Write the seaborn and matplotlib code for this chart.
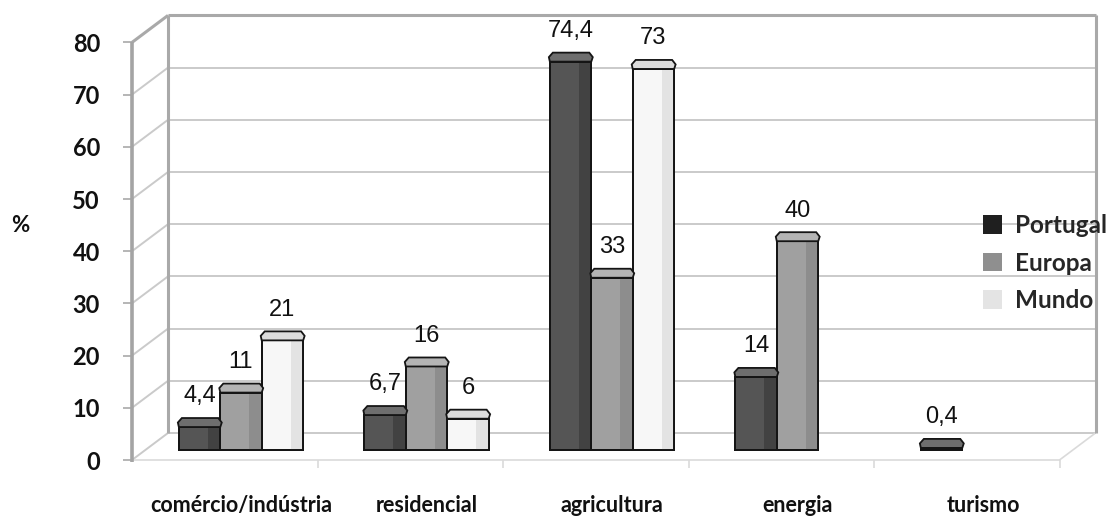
import matplotlib
matplotlib.use("Agg")
import matplotlib.pyplot as plt
from matplotlib.colors import to_hex
from matplotlib.patches import Polygon, Rectangle, Patch
import pandas as pd
import seaborn as sns

# ---- data -------------------------------------------------------------
categorias = ["comércio/indústria", "residencial", "agricultura", "energia", "turismo"]
regioes = ["Portugal", "Europa", "Mundo"]
portugal = [4.4, 6.7, 74.4, 14, 0.4]
europa = [11, 16, 33, 40, None]
mundo = [21, 6, 73, None, None]
y_ticks = [0, 10, 20, 30, 40, 50, 60, 70, 80]

df = pd.DataFrame({"categoria": categorias, "Portugal": portugal,
                   "Europa": europa, "Mundo": mundo})
long = (df.melt(id_vars="categoria", var_name="regiao", value_name="valor")
          .dropna())

# ---- styling ----------------------------------------------------------
sns.set_style("white")
plt.rcParams["font.family"] = ["Lato", "DejaVu Sans"]

front_col = {"Portugal": "#555555", "Europa": "#a0a0a0", "Mundo": "#f7f7f7"}
strip_col = {"Portugal": "#424242", "Europa": "#8d8d8d", "Mundo": "#e3e3e3"}
cap_col = {"Portugal": "#6e6e6e", "Europa": "#b4b4b4", "Mundo": "#dcdcdc"}
legend_col = {"Portugal": "#1f1f1f", "Europa": "#8f8f8f", "Mundo": "#e4e4e4"}
EDGE = "#151515"

W, H, DPI = 1111, 519, 100
fig = plt.figure(figsize=(W / DPI, H / DPI), dpi=DPI)
fig.patch.set_facecolor("white")

# axes box in pixels and pixel scale of the data
AX_L, AX_R, AX_T, AX_B = 132, 1100, 0, 470
X0_PX, Y0_PX = 241, 450          # pixel of category 0 / value 0
PXU, PXV = 185.5, 5.22           # pixels per category / per percent
ax = fig.add_axes([AX_L / W, 1 - AX_B / H, (AX_R - AX_L) / W, (AX_B - AX_T) / H])

sns.barplot(data=long, x="categoria", y="valor", hue="regiao",
            order=categorias, hue_order=regioes, palette=front_col,
            width=0.67, saturation=1, edgecolor=EDGE, linewidth=1.4,
            errorbar=None, legend=False, ax=ax, zorder=3)

ax.set_xlim((AX_L - X0_PX) / PXU, (AX_R - X0_PX) / PXU)
ax.set_ylim((Y0_PX - AX_B) / PXV, (Y0_PX - AX_T) / PXV)
for s in ax.spines.values():
    s.set_visible(False)
ax.set_xlabel("")
ax.set_ylabel("")


def du(px):
    return px / PXU


def dv(px):
    return px / PXV


# planes of the pseudo-3D box: (x shift, y shift) in pixels from the bar plane
FRONT = (-16.25, -10.0)
BACK = (19.75, 17.0)
U_L, U_R, V_TOP = -0.5, 4.5, 80


def at(u, v, plane):
    return u + du(plane[0]), v + dv(plane[1])


def seg(p, q, **kw):
    ax.plot([p[0], q[0]], [p[1], q[1]], clip_on=False, solid_capstyle="butt", **kw)


GRID = dict(color="#cacaca", lw=1.4, zorder=1)
BORDER = dict(color="#a9a9a9", lw=2.2, zorder=1.5)
FLOOR = dict(color="#dadada", lw=1.2, zorder=1)

# back wall and left side wall
for v in y_ticks[:-1]:
    seg(at(U_L, v, BACK), at(U_R, v, BACK), **GRID)
    seg(at(U_L, v, FRONT), at(U_L, v, BACK), **GRID)
seg(at(U_L, V_TOP, BACK), at(U_R, V_TOP, BACK), **BORDER)
seg(at(U_L, V_TOP, FRONT), at(U_L, V_TOP, BACK), **BORDER)
seg(at(U_L, 0, BACK), at(U_L, V_TOP, BACK), **BORDER)
seg(at(U_R, 0, BACK), at(U_R, V_TOP, BACK), **BORDER)
seg(at(U_L, -0.3, FRONT), at(U_L, V_TOP, FRONT), color="#a4a4a4", lw=2.6, zorder=1.5)

# y tick marks on the front edge
for v in y_ticks:
    p = at(U_L, v, FRONT)
    seg((p[0] - du(9), p[1]), p, color="#b0b0b0", lw=1.3, zorder=1)

# floor
seg(at(U_L, 0, FRONT), at(U_R, 0, FRONT), **FLOOR)
seg(at(U_R, 0, FRONT), at(U_R, 0, BACK), **FLOOR)
for k in range(len(categorias)):
    p = at(k + 0.5, 0, FRONT)
    seg(p, (p[0], p[1] - dv(8)), **FLOOR)

# bars: shading strip, outline, top cap, value label
hex_to_region = {to_hex(c): r for r, c in front_col.items()}
for bar in list(ax.patches):
    h = bar.get_height()
    if not (h == h) or h <= 0:
        continue
    region = hex_to_region.get(to_hex(bar.get_facecolor()), "Portugal")
    x0, w = bar.get_x(), bar.get_width()
    wp = w * PXU
    ax.add_patch(Rectangle((x0 + 0.70 * w, 0), 0.30 * w, h, facecolor=strip_col[region],
                           edgecolor="none", zorder=3.1))
    ax.add_patch(Rectangle((x0, 0), w, h, fill=False, edgecolor=EDGE, lw=1.4, zorder=3.2))
    cap_px = [(0, 0), (wp, 0), (wp + 1.5, 4.5), (wp - 2, 9), (3, 9), (-1, 4.5)]
    cap = [(x0 + du(a), h + dv(b)) for a, b in cap_px]
    ax.add_patch(Polygon(cap, closed=True, facecolor=cap_col[region],
                         edgecolor=EDGE, lw=1.3, zorder=3.3))
    label = f"{h:g}".replace(".", ",")
    ax.annotate(label, (x0 + w / 2, h), xytext=(0, 22), textcoords="offset points",
                ha="center", va="center", fontsize=17, color="#111111",
                family=["Liberation Sans", "DejaVu Sans"],
                zorder=5, annotation_clip=False)

# axis labels
ax.set_yticks([v + dv(FRONT[1]) for v in y_ticks], [str(v) for v in y_ticks])
ax.set_xticks(range(len(categorias)), categorias)
ax.tick_params(axis="y", length=0, pad=23, labelsize=17)
ax.tick_params(axis="x", length=0, pad=18, labelsize=15.5)
for t in ax.get_yticklabels() + ax.get_xticklabels():
    t.set_fontweight("bold")
    t.set_color("#111111")

fig.text(20 / W, 1 - 226 / H, "%", ha="center", va="center",
         fontsize=16, fontweight="bold", color="#111111")

handles = [Patch(facecolor=legend_col[r], edgecolor="none") for r in regioes]
fig.legend(handles, regioes, loc="upper left", bbox_to_anchor=(983 / W, 1 - 214 / H),
           frameon=False, prop={"family": "Lato", "weight": "bold", "size": 17.5},
           handlelength=0.8, handleheight=0.8, handletextpad=0.5,
           labelspacing=0.6, borderaxespad=0, borderpad=0)

fig.savefig("out.png", dpi=DPI, facecolor="white")
